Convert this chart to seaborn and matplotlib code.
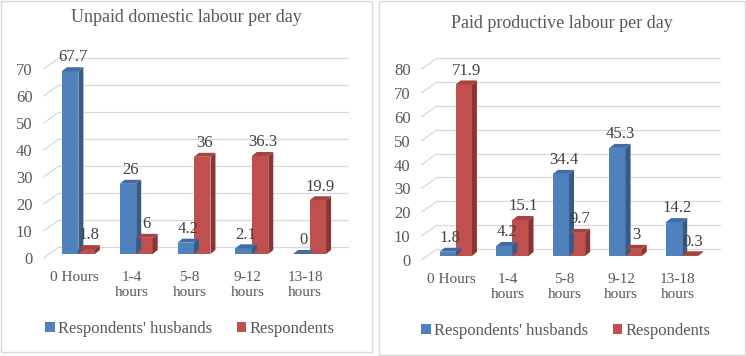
import matplotlib
matplotlib.use("Agg")
import matplotlib.pyplot as plt
import seaborn as sns
import pandas as pd
from matplotlib.patches import Polygon, Rectangle

categories = ["0 Hours", "1-4\nhours", "5-8\nhours", "9-12\nhours", "13-18\nhours"]
groups = ["Respondents' husbands", "Respondents"]

unpaid_husbands = [67.7, 26, 4.2, 2.1, 0]
unpaid_respondents = [1.8, 6, 36, 36.3, 19.9]
unpaid_ticks = [0, 10, 20, 30, 40, 50, 60, 70]

paid_husbands = [1.8, 4.2, 34.4, 45.3, 14.2]
paid_respondents = [71.9, 15.1, 9.7, 3, 0.3]
paid_ticks = [0, 10, 20, 30, 40, 50, 60, 70, 80]

sns.set_theme(style="white")
plt.rcParams["font.family"] = ["Liberation Serif", "DejaVu Serif"]

W, H = 746, 356
side = {"#4F81BD": "#375B87", "#C0504D": "#8A3533"}
top = {"#4F81BD": "#416DA3", "#C0504D": "#A6423F"}
colors = ["#4F81BD", "#C0504D"]
text_grey = "#595959"
grid_grey = "#D9D9D9"
serif = ["Liberation Serif", "DejaVu Serif"]

fig = plt.figure(figsize=(W / 100, H / 100), dpi=100)


def draw_panel(box, plane, ymax, ticks, husbands, respondents, title, title_y, legend_xy):
    bl, bt, br, bb = box
    fig.add_artist(Rectangle((bl / W, 1 - bb / H), (br - bl) / W, (bb - bt) / H,
                             transform=fig.transFigure, fill=False,
                             edgecolor=grid_grey, lw=1.0))
    left, right, y0, ppu = plane
    h = ymax * ppu
    w = right - left
    ax = fig.add_axes([left / W, (H - y0) / H, w / W, h / H])

    df = pd.DataFrame({
        "Hours": categories * 2,
        "Percent": husbands + respondents,
        "Group": [groups[0]] * 5 + [groups[1]] * 5,
    })
    sns.barplot(data=df, x="Hours", y="Percent", hue="Group", hue_order=groups,
                palette=colors, width=0.57, saturation=1, legend=False, ax=ax,
                linewidth=0)
    ax.set_xlim(-0.5, 4.5)
    ax.set_ylim(0, ymax)
    for s in ax.spines.values():
        s.set_visible(False)
    ax.set_xlabel("")
    ax.set_ylabel("")
    ax.set_yticks(ticks)
    ax.tick_params(axis="y", length=0, pad=9, labelsize=12, labelcolor=text_grey)
    ax.tick_params(axis="x", length=0, pad=9.5, labelsize=11, labelcolor=text_grey)
    for lab in ax.get_xticklabels():
        lab.set_linespacing(1.2)
    ax.patch.set_visible(False)

    xu = w / 5.0
    # bar plane offset and bar depth, pixels -> data units
    bx, by = 4.5 / xu, 4 / ppu
    dx, dy = 5 / xu, 4 / ppu
    gx, gy = 14 / xu, 11 / ppu

    for t in ticks:
        ax.plot([-0.5 + gx, 4.5 + gx], [t + gy, t + gy], color=grid_grey,
                lw=0.9, clip_on=False, zorder=0)
        ax.plot([-0.5 - 1.5 / xu, -0.5 + gx], [t, t + gy], color=grid_grey,
                lw=0.9, clip_on=False, zorder=0)

    for cont, vals, c in zip(ax.containers, [husbands, respondents], colors):
        for bar, v in zip(cont.patches, vals):
            x0 = bar.get_x() + bx
            bw = bar.get_width()
            x1 = x0 + bw
            bar.set_x(x0)
            bar.set_y(by)
            bar.set_clip_on(False)
            bar.set_zorder(2)
            yt = by + v
            ax.add_patch(Polygon([(x1, by), (x1 + dx, by + dy), (x1 + dx, yt + dy), (x1, yt)],
                                 closed=True, facecolor=side[c], lw=0, zorder=2, clip_on=False))
            ax.add_patch(Polygon([(x0, yt), (x0 + dx, yt + dy), (x1 + dx, yt + dy), (x1, yt)],
                                 closed=True, facecolor=top[c], lw=0, zorder=2, clip_on=False))
            ax.annotate(f"{v:g}", (x0 + bw / 2 + dx / 2, yt + dy), xytext=(0, 7),
                        textcoords="offset points", ha="center", va="center",
                        fontsize=12, color="#404040", zorder=3, annotation_clip=False)

    fig.text((bl + br) / 2 / W, 1 - title_y / H, title, ha="center", va="center",
             fontsize=13, color=text_grey)

    handles = [Rectangle((0, 0), 1, 1, facecolor=c, lw=0) for c in colors]
    leg = fig.legend(handles, groups, loc="center", ncol=2, frameon=False,
                     bbox_to_anchor=(legend_xy[0] / W, 1 - legend_xy[1] / H),
                     bbox_transform=fig.transFigure, prop={"family": serif, "size": 12},
                     handlelength=0.55, handleheight=0.55, handletextpad=0.2,
                     columnspacing=1.5, labelcolor=text_grey)
    for t in leg.get_texts():
        t.set_fontfamily(serif)


draw_panel((1, 1, 372, 352), (45, 334, 258, 2.7), 75, unpaid_ticks,
           unpaid_husbands, unpaid_respondents,
           "Unpaid domestic labour per day", 18, (190, 329))
draw_panel((379, 1, 745, 355), (423, 706, 260, 2.386), 85, paid_ticks,
           paid_husbands, paid_respondents,
           "Paid productive labour per day", 23, (566, 331))

fig.savefig("out.png", dpi=100, facecolor="white")
